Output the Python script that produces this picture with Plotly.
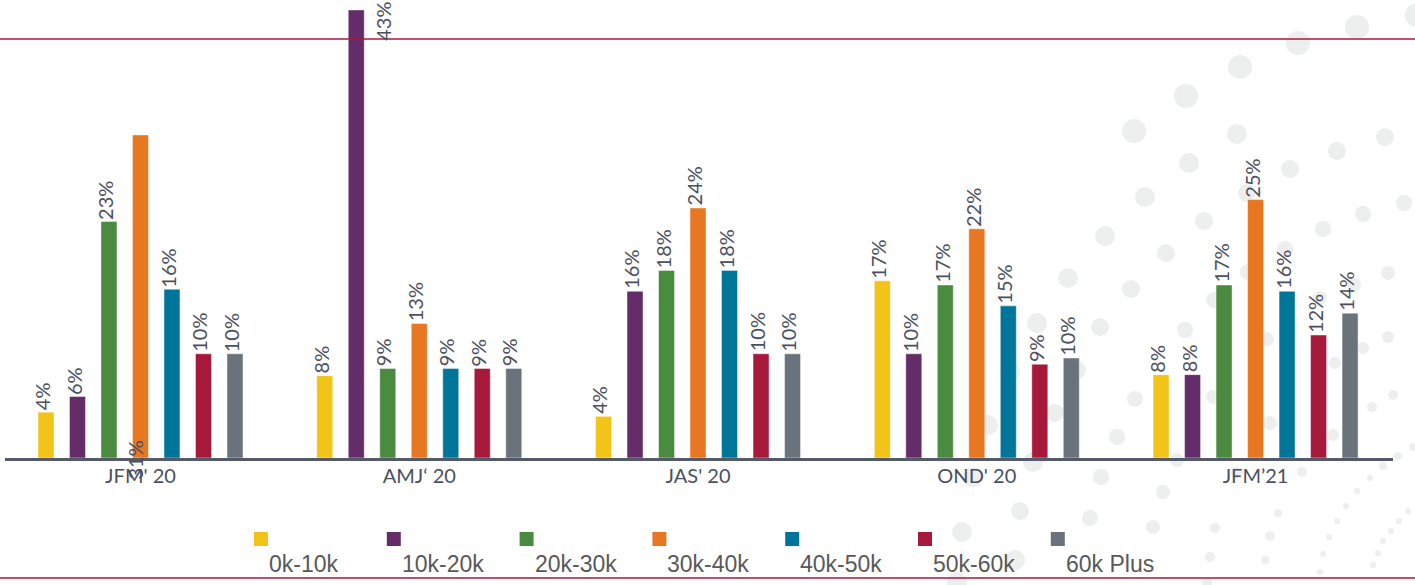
import plotly.graph_objects as go

# ---- data ----
periods = ["JFM' 20", "AMJ\u2018 20", "JAS' 20", "OND' 20", "JFM\u201921"]
series_names = ["0k-10k", "10k-20k", "20k-30k", "30k-40k", "40k-50k", "50k-60k", "60k Plus"]
v_0_10 = [4.4, 7.9, 4.0, 17.0, 8.0]
v_10_20 = [5.9, 43.0, 16.0, 10.0, 8.0]
v_20_30 = [22.7, 8.6, 18.0, 16.6, 16.6]
v_30_40 = [31.0, 12.9, 24.0, 22.0, 24.8]
v_40_50 = [16.2, 8.6, 18.0, 14.6, 16.0]
v_50_60 = [10.0, 8.6, 10.0, 9.0, 11.8]
v_60p = [10.0, 8.6, 10.0, 9.6, 13.9]
series_values = [v_0_10, v_10_20, v_20_30, v_30_40, v_40_50, v_50_60, v_60p]
colors = ["#F2C318", "#652C6A", "#4A8B3F", "#E87722", "#00759A", "#A6193B", "#6A737B"]
base_labels = {(0, 3)}  # label drawn at the base of the bar in the original

# ---- layout geometry (pixels) ----
FW, FH = 1415, 585
ML, MR, MT, MB = 5, 22, 0, 127
PW, PH = FW - ML - MR, FH - MT - MB
Y_MAX = 43.95
SLOT = 0.113
BAR_W = 0.0574

def px_x(px):
    return (px - ML) / PW

def px_y(py):
    return (FH - MB - py) / PH

fig = go.Figure()
n = len(series_names)
annotations = []
for j, (name, vals, col) in enumerate(zip(series_names, series_values, colors)):
    xs = [i + (j - (n - 1) / 2) * SLOT for i in range(len(periods))]
    fig.add_trace(go.Bar(
        x=xs, y=vals, width=BAR_W, name=name,
        marker=dict(color=col, line=dict(color="rgba(255,255,255,0.45)", width=1)),
        showlegend=False, hoverinfo="y",
    ))
    for i, (x, v) in enumerate(zip(xs, vals)):
        label = f"{round(v)}%"
        common = dict(text=label, textangle=-90, showarrow=False,
                      font=dict(family="Lato", size=20, color="#4B5060"))
        if (i, j) in base_labels:
            annotations.append(dict(x=x, y=0, xref="x", yref="y", xanchor="center",
                                    yanchor="middle", xshift=-5, yshift=-2, **common))
        elif v + 4.2 > Y_MAX:
            annotations.append(dict(x=x, y=1, xref="x", yref="paper", xanchor="left",
                                    yanchor="top", xshift=12, **common))
        else:
            annotations.append(dict(x=x, y=v, xref="x", yref="y", xanchor="center",
                                    yanchor="bottom", xshift=-4, **common))

# custom legend: square above label
for j, (name, col) in enumerate(zip(series_names, colors)):
    sx = 254 + j * 132.8
    fig.add_shape(type="rect", xref="paper", yref="paper",
                  x0=px_x(sx), x1=px_x(sx + 14), y0=px_y(546), y1=px_y(532),
                  fillcolor=col, line=dict(width=0))
    annotations.append(dict(text=name, x=px_x(sx + 13), y=px_y(564), xref="paper", yref="paper",
                            xanchor="left", yanchor="middle", showarrow=False,
                            font=dict(family="Liberation Sans", size=23, color="#595959")))

# decorative dot pattern (pixels: cx, cy, r)
deco_dots = [
    (1417, 15, 12), (1357, 27, 12), (1298, 43, 12), (1240, 67, 12), (1186, 96, 12), (1134, 131, 12),
    (1237, 134, 10), (1189, 163, 10), (1145, 197, 10), (1105, 236, 10), (1068, 278, 10), (1037, 323, 10),
    (1010, 372, 10), (988, 425, 10), (973, 477, 10), (962, 532, 10), (957, 582, 10),
    (1385, 137, 9), (1337, 151, 9), (1290, 169, 9), (1247, 193, 9), (1204, 221, 9), (1166, 253, 9),
    (1131, 289, 9), (1100, 327, 9), (1077, 370, 9), (1055, 413, 9), (1033, 462, 10), (1020, 511, 9),
    (1015, 560, 10),
    (1404, 203, 8), (1363, 214, 8), (1323, 229, 8), (1285, 249, 8), (1248, 272, 8), (1214, 300, 8),
    (1185, 330, 8), (1135, 399, 8), (1117, 437, 8), (1101, 477, 8), (1090, 518, 8),
    (1388, 273, 7), (1354, 285, 7), (1320, 298, 7), (1267, 339, 7), (1213, 397, 7), (1177, 460, 7),
    (1163, 492, 7), (1153, 527, 7),
    (1388, 337, 6), (1363, 348, 6), (1335, 363, 6), (1372, 407, 5), (1393, 395, 5), (1333, 435, 6),
    (1270, 423, 7), (1237, 473, 6), (1302, 472, 5), (1383, 466, 4), (1398, 456, 4), (1413, 447, 4),
    (1215, 528, 5), (1278, 513, 4), (1346, 506, 3), (1357, 491, 3), (1370, 478, 3), (1408, 511, 3),
    (1399, 521, 3), (1391, 531, 3), (1383, 541, 3), (1378, 553, 3), (1373, 565, 3), (1337, 521, 3),
    (1329, 537, 3), (1323, 554, 3), (1320, 572, 3), (1270, 536, 5), (1265, 560, 4), (1210, 557, 5),
    (1207, 583, 5),
]
for cx, cy, r in deco_dots:
    fig.add_shape(type="circle", xref="paper", yref="paper", layer="below",
                  x0=px_x(cx - r), x1=px_x(cx + r), y0=px_y(cy + r), y1=px_y(cy - r),
                  fillcolor="#EDEEEE", line=dict(width=0))

# red rules
for yy in (39, 578):
    fig.add_shape(type="line", xref="paper", yref="paper",
                  x0=px_x(0), x1=px_x(FW), y0=px_y(yy), y1=px_y(yy),
                  line=dict(color="#A6193B", width=1.5))

fig.update_layout(
    width=FW, height=FH,
    margin=dict(l=ML, r=MR, t=MT, b=MB),
    paper_bgcolor="white", plot_bgcolor="rgba(0,0,0,0)",
    barmode="overlay",
    annotations=annotations,
    xaxis=dict(range=[-0.486, 4.493], tickvals=list(range(len(periods))), ticktext=periods,
               showgrid=False, zeroline=False, showline=True, linecolor="#555A68", linewidth=3,
               ticks="", ticklabelstandoff=-2,
               tickfont=dict(family="Lato", size=20, color="#4B5060"), fixedrange=True),
    yaxis=dict(range=[0, Y_MAX], visible=False, fixedrange=True),
)

fig.write_html("out.html", config={"displayModeBar": False},
               post_script="document.body.style.margin='0px';document.body.style.overflow='hidden';")
